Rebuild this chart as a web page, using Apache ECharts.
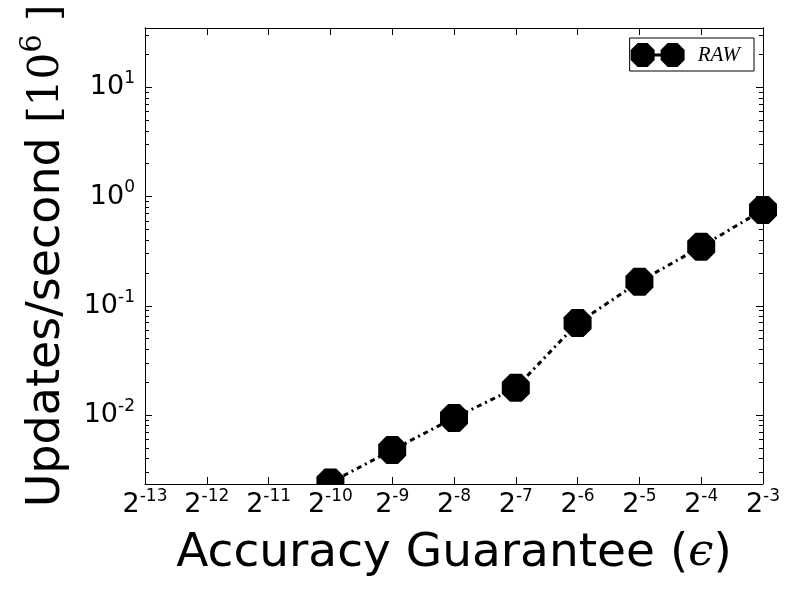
<!DOCTYPE html>
<html><head><meta charset="utf-8">
<script src="https://cdn.jsdelivr.net/npm/echarts@6/dist/echarts.min.js"></script>
<style>html,body{margin:0;padding:0;background:#fff}#c{width:800px;height:600px}</style>
</head><body><div id="c"></div>
<script>
// ---- data ----
const seriesName = 'RAW';
const epsilonExponents = [-10, -9, -8, -7, -6, -5, -4, -3];
const rawValues = [0.0024, 0.00477, 0.00939, 0.0177, 0.0694, 0.166, 0.348, 0.755];
const xTickExponents = [-13, -12, -11, -10, -9, -8, -7, -6, -5, -4, -3];
const yTickExponents = [-2, -1, 0, 1];
const yMinorDecades = [-3, -2, -1, 0, 1];
const yMinorMultipliers = [2, 3, 4, 5, 6, 7, 8, 9];

// ---- derived ----
const xMin = Math.pow(2, -13), xMax = Math.pow(2, -3);
const yMin = 0.00233, yMax = 35;
const xTickVals = xTickExponents.map(e => Math.pow(2, e));
const yTickVals = yTickExponents.map(e => Math.pow(10, e));
const yMinorVals = [];
yMinorDecades.forEach(d => yMinorMultipliers.forEach(m => {
  const v = m * Math.pow(10, d);
  if (v > yMin && v < yMax) yMinorVals.push(v);
}));
const seriesData = epsilonExponents.map((e, i) => [Math.pow(2, e), rawValues[i]]);

const octagon = 'path://M12,5L5,12L-5,12L-12,5L-12,-5L-5,-12L5,-12L12,-5Z';
const legendIcon = 'path://M24,17L17,24L7,24L0,17L0,7L7,0L17,0L24,7Z M54,17L47,24L37,24L30,17L30,7L37,0L47,0L54,7Z M0,10.5L54,10.5L54,13.5L0,13.5Z';

const labelRich = {
  b: { fontSize: 27, fontFamily: 'DejaVu Sans', color: '#000', lineHeight: 34 },
  s: { fontSize: 17, fontFamily: 'DejaVu Sans', color: '#000', verticalAlign: 'top', lineHeight: 18 }
};
const axisLine = { show: true, lineStyle: { color: '#000', width: 1 } };

function yAxisDef(position, vals, len, labels) {
  return {
    type: 'log', logBase: 10, min: yMin, max: yMax, position: position,
    axisLine: axisLine,
    splitLine: { show: false },
    axisTick: { show: true, inside: true, length: len, customValues: vals, lineStyle: { color: '#000', width: 1 } },
    axisLabel: labels ? {
      show: true, customValues: yTickVals, margin: 10,
      formatter: v => '{b|10}{s|' + Math.round(Math.log10(v)) + '}',
      rich: labelRich
    } : { show: false }
  };
}
function xAxisDef(position, labels) {
  return {
    type: 'log', logBase: 2, min: xMin, max: xMax, position: position, z: 20,
    axisLine: axisLine,
    splitLine: { show: false },
    axisTick: { show: true, inside: true, length: 7, customValues: xTickVals, lineStyle: { color: '#000', width: 1 } },
    axisLabel: labels ? {
      show: true, customValues: xTickVals, margin: 4,
      formatter: v => '{b|2}{s|' + Math.round(Math.log2(v)) + '}',
      rich: labelRich
    } : { show: false }
  };
}

const xa0 = xAxisDef('bottom', true);
xa0.name = '{t|Accuracy Guarantee (}{e|\u03f5}{t|)}';
xa0.nameLocation = 'middle';
xa0.nameGap = 46;
xa0.nameTextStyle = { rich: {
  t: { fontSize: 47, fontFamily: 'DejaVu Sans', color: '#000' },
  e: { fontSize: 45, fontFamily: 'DejaVu Serif', fontStyle: 'italic', color: '#000' }
}};

const ya0 = yAxisDef('left', yTickVals, 7, true);
ya0.name = '{t|Updates/second }{m|[10}{p|6}{m| ]}';
ya0.nameLocation = 'middle';
ya0.nameRotate = 90;
ya0.nameGap = 70;
ya0.nameTextStyle = { rich: {
  t: { fontSize: 46, fontFamily: 'DejaVu Sans', color: '#000', lineHeight: 56 },
  m: { fontSize: 42, fontFamily: 'DejaVu Serif', color: '#000', lineHeight: 56 },
  p: { fontSize: 29, fontFamily: 'DejaVu Serif', color: '#000', verticalAlign: 'top', lineHeight: 30 }
}};

const chart = echarts.init(document.getElementById('c'), null, { renderer: 'canvas' });
chart.setOption({
  backgroundColor: '#fff',
  animation: false,
  grid: { left: 145, right: 37, top: 28, bottom: 116, outerBoundsMode: 'none', containLabel: false },
  xAxis: [xa0, xAxisDef('top', false)],
  yAxis: [
    ya0,
    yAxisDef('left', yMinorVals, 4, false),
    yAxisDef('right', yTickVals, 7, false),
    yAxisDef('right', yMinorVals, 4, false)
  ],
  legend: {
    data: [{ name: seriesName, icon: legendIcon }],
    right: 46, top: 38,
    orient: 'vertical',
    itemWidth: 54, itemHeight: 26,
    padding: [5, 14, 4, 1],
    borderColor: '#000', borderWidth: 1, borderRadius: 0,
    backgroundColor: '#fff',
    itemStyle: { color: '#000' },
    textStyle: { fontFamily: 'Liberation Serif', fontStyle: 'italic', fontSize: 21, color: '#000', padding: [0, 0, 0, 8] }
  },
  graphic: [{
    type: 'rect', z: 10,
    shape: { x: 120, y: 484, width: 680, height: 30 },
    style: { fill: '#fff' }
  }],
  series: [{
    name: seriesName,
    type: 'line',
    xAxisIndex: 0, yAxisIndex: 0,
    data: seriesData,
    symbol: octagon,
    symbolSize: 28,
    z: 3,
    itemStyle: { color: '#000' },
    lineStyle: { color: '#000', width: 3, type: [5, 4, 2, 4] },
    clip: false
  }]
});
</script>
</body></html>
